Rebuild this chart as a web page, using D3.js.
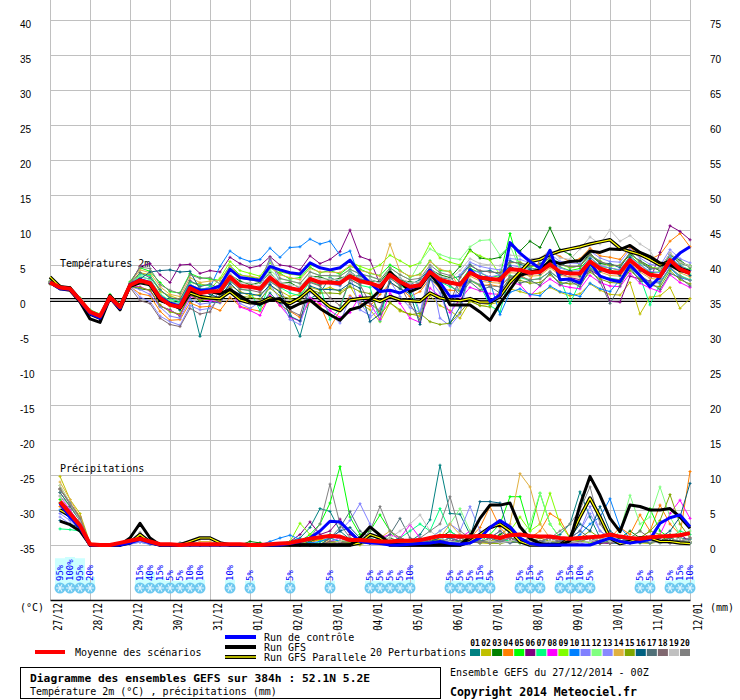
<!DOCTYPE html>
<html>
<head>
<meta charset="utf-8">
<script src="https://cdn.jsdelivr.net/npm/d3@7"></script>
<style>
  body { margin: 0; background: #fff; }
  svg { display: block; }
</style>
</head>
<body>
<svg id="chart"></svg>
<script>
// 6h steps, 0 = 27/12 00Z ... 64 = 12/01 00Z
const dayTicks = [0, 4, 8, 12, 16, 20, 24, 28, 32, 36, 40, 44, 48, 52, 56, 60, 64];
const dayLabels = ["27/12", "28/12", "29/12", "30/12", "31/12", "01/01", "02/01", "03/01", "04/01",
  "05/01", "06/01", "07/01", "08/01", "09/01", "10/01", "11/01", "12/01"];
const tempTicks = [40, 35, 30, 25, 20, 15, 10, 5, 0, -5, -10, -15, -20, -25, -30, -35];
const precipTicks = [75, 70, 65, 60, 55, 50, 45, 40, 35, 30, 25, 20, 15, 10, 5, 0];

const memberIds = ["01", "02", "03", "04", "05", "06", "07", "08", "09", "10",
  "11", "12", "13", "14", "15", "16", "17", "18", "19", "20"];
const memberColors = ["#008080", "#c0c000", "#008000", "#ff8000", "#00ff00", "#800080", "#00ff80",
  "#ff00ff", "#80ff00", "#0080ff", "#8080ff", "#80ff80", "#8888ff", "#e0b040", "#80a800",
  "#006080", "#507078", "#806870", "#c0c0c0", "#808080"];

// temperature 2m (°C), steps 0..64
const tempMean = [2.5, 1.8, 1.6, 0.0, -1.7, -2.3, 0.4, -1.0, 2.1, 2.8, 2.4, 0.3, -0.7, -1.0, 1.7, 1.0, 1.2,
  1.3, 3.3, 2.0, 1.9, 1.6, 3.2, 2.1, 1.7, 1.4, 3.0, 2.5, 2.5, 2.4, 3.4, 2.7, 2.4, 1.9, 3.6, 2.6, 1.9, 2.1,
  4.0, 2.9, 2.5, 2.2, 3.9, 3.2, 3.0, 2.9, 4.4, 4.3, 3.9, 4.0, 5.1, 4.0, 3.8, 3.8, 5.5, 4.5, 4.0, 3.9, 5.7,
  4.5, 3.6, 3.4, 5.7, 4.4, 3.8];
const tempControl = [2.5, 1.6, 1.5, -0.1, -1.9, -2.6, 0.3, -1.2, 2.2, 2.9, 2.5, 0.4, -0.5, -0.8, 2.0, 1.4, 1.5,
  2.0, 4.4, 3.2, 3.0, 2.8, 4.8, 4.3, 3.9, 3.7, 5.3, 4.6, 4.3, 4.6, 5.7, 3.9, 2.4, 1.2, 1.4, 1.0, 1.7, 2.1,
  4.3, 2.5, 0.5, 0.6, 4.3, 3.0, -0.2, 0.7, 8.2, 6.7, 5.5, 4.5, 7.1, 2.9, 3.0, 2.4, 5.3, 3.4, 2.9, 2.6, 5.0,
  3.5, 1.9, 3.3, 5.3, 6.7, 7.6];
const tempGfs = [2.5, 1.6, 1.4, -0.3, -2.7, -3.2, 0.3, -1.4, 2.0, 2.6, 2.3, 0.0, -0.6, -1.2, 1.4, 1.0, 1.2,
  0.9, 1.5, 0.6, -0.3, -0.6, 0.0, 0.2, -1.2, -0.5, 0.0, -1.2, -2.1, -2.9, -1.4, -1.0, 0.0, 1.4, 4.0, 2.6,
  1.2, 1.8, 3.8, 1.9, -0.7, -0.7, -0.7, -1.7, -2.9, -0.5, 1.5, 3.5, 4.0, 4.3, 5.6, 5.2, 5.5, 5.6, 7.0, 6.8,
  7.3, 7.2, 7.8, 6.8, 6.2, 5.3, 5.0, 4.2, 3.9];
const tempParallel = [3.3, 1.9, 1.7, 0.0, -2.0, -2.6, 0.6, -1.0, 2.0, 2.5, 2.2, 0.0, -0.5, -1.1, 1.0, 0.5, 0.3,
  0.2, 1.2, 0.0, -0.4, -0.4, 0.3, -0.2, -0.5, 0.3, 1.5, 0.2, -1.0, -1.5, 0.0, 0.2, 0.3, -0.2, 0.5, 0.0,
  -0.1, -0.2, 1.0, 0.3, 0.0, -0.1, 0.2, -0.3, -0.3, 0.5, 2.5, 4.0, 5.5, 5.8, 6.5, 7.0, 7.3, 7.6, 8.0, 8.3,
  8.6, 7.4, 6.9, 6.5, 5.8, 5.0, 5.5, 4.5, 4.0];
const tempMembers = [
  [2.4, 1.7, 1.5, 0.2, -1.5, -2.1, 0.6, -0.8, 2.4, 3.2, 2.0, 0.8, -0.2, -1.5, 0.6, -5.2, -0.3,
   -0.4, 1.5, 0.4, -0.3, -0.8, 1.0, -0.5, -1.8, -5.2, 0.2, 1.0, 3.2, 2.6, 4.1, 3.0, 2.9, 2.5, 4.0, 3.1, 2.2,
   2.9, 4.6, 3.2, 3.0, 3.4, 5.1, 4.0, 4.2, 3.6, 5.6, 5.1, 4.7, 5.2, 6.0, 5.3, 4.6, 4.9, 6.4, 5.3, 5.2, 4.6,
   6.8, 5.4, 4.4, 4.6, 6.5, 5.2, 4.9],
  [2.6, 1.9, 1.8, -0.2, -1.9, -2.4, 0.3, -1.2, 1.8, 3.9, 3.6, 1.2, 0.6, 0.1, 2.5, 2.3, 2.0,
   0.5, 2.1, 1.2, 0.6, 0.8, 2.0, 1.3, 0.5, 0.9, 1.8, 1.4, 1.8, 1.2, 2.0, -0.5, -1.4, -3.1, -0.4, -1.6, -2.0,
   -2.3, 0.6, -0.8, -1.5, -2.6, -0.2, -0.8, -0.6, -0.3, 1.6, 1.2, 0.8, 1.0, 1.8, 1.1, 0.6, 0.9, 2.3, 1.4,
   0.8, 0.7, 2.5, -2.0, 0.4, 0.6, 1.8, -1.2, 0.2],
  [2.3, 1.6, 1.4, 0.1, -1.8, -2.6, 0.2, -1.1, 2.0, 1.6, 1.4, -0.9, -1.4, -2.3, 1.0, -0.2, 0.4,
   1.9, 3.6, 2.7, 2.2, 2.5, 3.9, 2.4, 2.5, 1.7, 3.4, 3.3, 2.8, 3.1, 3.6, 3.4, 2.7, 2.6, 4.3, 2.8, 2.6, 2.4,
   4.4, 3.6, 3.2, 4.8, 7.2, 6.0, 5.8, 6.1, 7.8, 7.0, 8.4, 7.5, 10.3, 7.2, 6.5, 4.9, 6.7, 5.2, 5.0, 4.9, 6.5,
   5.6, 4.8, 4.2, 6.4, 5.7, 4.6],
  [2.5, 1.9, 1.7, -0.1, -1.6, -2.2, 0.5, -1.0, 1.9, 0.9, 0.6, -1.6, -2.9, -2.8, -0.4, -1.0, -0.9,
   -1.5, 0.4, -0.9, -1.3, -1.6, 0.5, -0.8, -1.6, -2.5, -0.2, -0.7, -4.0, -1.5, 0.6, -0.4, -0.9, 0.8, 2.4,
   1.7, 0.5, 1.2, 3.1, 1.6, 1.4, 1.3, 2.8, 2.0, 2.2, 1.9, 3.3, 3.6, 2.7, 5.8, 7.0, 6.2, 5.5, 5.9, 7.4, 6.3,
   6.1, 5.8, 7.5, 6.3, 5.8, 6.5, 8.4, 9.5, 7.6],
  [2.7, 2.0, 1.7, 0.3, -1.4, -2.0, 0.8, -0.6, 2.6, 4.6, 4.1, 2.5, 1.2, 1.0, 3.8, 3.2, 3.0,
   2.8, 4.9, 3.6, 3.3, 3.0, 4.6, 3.8, 3.0, 3.2, 4.7, 3.9, 4.2, 3.7, 4.8, 4.4, 3.8, 3.5, 5.0, 4.2, 3.3, 3.7,
   5.6, 4.2, 4.1, 2.5, 4.5, 3.9, 3.2, 3.5, 9.5, 4.6, 4.6, 4.3, 5.4, 4.7, 4.2, 4.5, 6.1, 4.8, 4.6, 4.2, 6.3,
   5.1, 3.9, 4.0, 6.0, 4.9, 4.3],
  [2.4, 1.8, 1.5, 0.2, -1.6, -2.3, 0.6, -0.9, 2.3, 4.8, 5.2, 3.6, 2.5, 5.0, 5.1, 3.8, 4.2,
   4.0, 6.1, 5.2, 4.6, 4.9, 6.2, 5.0, 4.8, 4.3, 6.3, 5.2, 5.8, 6.9, 10.0, 6.2, 5.7, 2.3, 3.8, 2.2, 1.7, 2.4,
   4.4, 2.6, 2.2, 2.5, 4.1, 3.4, 3.3, 2.6, 4.6, 4.0, 3.5, 4.3, 5.4, 3.8, 3.2, 2.9, 4.3, 3.4, -0.2, -0.3,
   3.4, 3.0, 2.7, 6.8, 10.6, 9.8, 8.6],
  [2.5, 1.7, 1.7, 0.1, -1.7, -2.2, 0.4, -0.9, 2.2, 3.6, 3.5, 1.5, 0.2, -0.3, 2.6, 2.1, 2.1,
   0.9, 2.7, 1.6, 1.3, -1.5, 2.6, 1.8, 1.0, 0.6, 2.6, 2.1, -2.8, -1.2, 3.0, 2.1, 1.8, -3.0, 3.2, 2.0, 1.5,
   -2.0, 3.5, 2.6, 1.9, 1.3, 2.8, 2.1, -0.8, -1.7, 3.5, 3.2, 2.8, 3.1, 4.0, 3.0, -0.5, 2.6, 4.7, 3.4, 3.1,
   2.9, 4.6, 3.3, -0.7, 2.3, 4.5, 3.5, 2.9],
  [2.6, 1.8, 1.6, 0.0, -1.8, -2.5, 0.3, -1.1, 2.0, 1.9, 1.3, -0.8, -1.5, -2.2, 0.5, 0.1, -0.1,
   -0.3, 1.8, -1.0, -1.5, -2.2, 0.6, -0.8, -2.5, -3.0, 0.3, -0.5, -1.5, -2.5, -1.8, 0.6, -0.5, -2.8, 1.0,
   -0.5, -2.6, -3.2, 1.7, 0.5, -1.8, 0.1, 1.8, 1.3, 0.9, 0.8, 2.5, 2.2, 0.6, 2.0, 3.0, 2.1, 1.8, 1.6, 3.5,
   2.5, 2.0, 1.9, 3.8, 2.4, 1.7, 1.2, 3.6, 2.5, 1.8],
  [2.5, 1.8, 1.6, -0.1, -1.7, -2.4, 0.5, -1.0, 2.1, 2.7, 2.6, 0.1, -0.9, -0.6, 1.9, 0.8, 1.5,
   3.1, 5.5, 4.2, 3.8, 3.4, 5.3, 4.0, 3.7, 3.5, 5.0, 4.6, 4.2, 4.5, 5.5, 4.8, 4.3, 5.0, 6.4, 5.6, 4.8, 5.3,
   8.1, 6.0, 5.4, 5.0, 7.0, 6.3, 5.7, 3.6, 5.3, 5.4, 4.8, 4.9, 6.0, 5.1, 4.6, 4.9, 6.4, 5.6, 4.8, 5.0, 6.7,
   5.4, 4.7, 4.5, 6.6, 5.3, 4.9],
  [2.5, 1.9, 1.6, 0.0, -1.6, -2.3, 0.4, -1.0, 2.2, 3.3, 3.0, 0.7, -0.3, -0.4, 2.2, 1.5, 1.8,
   4.8, 7.0, 6.0, 5.5, 5.8, 7.4, 6.1, 7.5, 7.6, 8.7, 8.0, 8.4, 6.4, 7.0, 3.0, 2.5, 2.0, 3.4, 2.8, 2.0, 2.4,
   4.1, 2.8, 2.4, 2.0, 3.7, 3.5, 2.6, -2.1, 1.1, 1.6, 0.8, 0.6, 2.0, 1.2, 0.9, 0.5, 2.4, 1.6, 1.2, 2.9, 4.9,
   3.4, 2.5, 2.6, 4.6, 3.2, 2.8],
  [2.4, 1.7, 1.5, -0.1, -1.8, -2.5, 0.2, -1.2, 1.9, 1.5, 0.8, -1.0, -2.3, -2.6, 0.1, -0.6, -0.4,
   1.2, 3.5, 1.8, 2.1, 1.3, 5.8, 2.4, 1.4, 1.8, 2.8, 2.7, 2.3, 2.0, 3.6, -1.4, -2.2, 1.5, 3.9, 2.4, 2.3, -1.8,
   4.2, -2.6, -3.7, -2.0, 4.3, 3.9, 3.3, 3.6, 5.0, 4.7, 4.5, 4.3, 5.6, 4.6, 4.1, 4.2, 6.1, 4.9, 4.6, 4.3,
   6.2, 5.0, 4.1, 3.9, 6.3, 4.9, 4.2],
  [2.6, 1.8, 1.6, 0.1, -1.7, -2.2, 0.5, -0.9, 2.2, 3.4, 2.9, 0.9, -0.1, -0.5, 2.2, 1.6, 1.7,
   2.2, 4.2, 3.1, 2.9, 2.6, 4.3, 3.0, 2.8, 2.3, 4.0, 3.5, 3.4, 3.5, 4.3, 3.8, 3.3, 2.9, 4.6, 3.6, 2.9, 5.4,
   7.3, 6.5, 6.0, 5.8, 7.6, 8.5, 8.6, 6.4, 7.8, 4.4, 4.0, 3.9, 5.2, 4.2, 3.7, 3.9, 5.6, 4.4, 4.0, 3.8, 5.8,
   4.6, 3.7, 3.3, 5.8, 4.5, 3.7],
  [2.5, 1.8, 1.5, 0.0, -1.7, -2.4, 0.4, -1.0, 2.0, 0.4, -0.2, -2.3, -3.1, -3.6, -0.8, -1.4, -1.2,
   0.4, 2.2, -0.5, -1.2, -0.3, 2.3, 0.0, -2.8, -3.5, 1.1, 0.4, -2.0, -3.3, 0.4, -0.3, -2.5, -1.2, 2.7, 0.5,
   -1.1, -1.8, 2.9, 1.0, -3.0, 3.6, 5.4, 4.8, 4.5, 4.3, 5.9, 5.8, 5.3, 5.6, 6.6, 5.5, 5.3, 5.2, 7.0, 6.0,
   5.5, 5.4, 7.2, 6.0, 5.1, 4.9, 7.2, 5.9, 5.3],
  [2.6, 2.0, 1.7, 0.2, -1.5, -2.1, 0.6, -0.8, 2.4, 4.3, 3.9, 1.9, 0.8, 0.5, 3.2, 2.5, 2.7,
   2.8, 4.8, 3.5, 3.4, 3.1, 4.7, 3.6, 3.2, 2.9, 4.5, 4.0, 4.0, 3.9, 4.9, 4.2, 3.9, 3.4, 8.0, 4.1, 3.4, 3.6,
   5.5, 4.4, 4.0, 1.7, 3.4, 2.7, 2.5, 2.4, 3.9, 3.8, 3.4, 3.5, 4.6, 3.5, 3.3, 3.3, 5.0, 4.0, 3.5, 3.4, 5.2,
   4.0, 3.1, 2.9, 5.2, 3.9, 3.3],
  [2.4, 1.7, 1.6, -0.1, -1.9, -2.5, 0.2, -1.2, 1.9, 1.8, 1.4, -0.7, -1.7, -2.0, 0.7, 0.0, 0.2,
   -0.2, 1.8, 0.5, 0.4, 0.1, 1.7, 0.6, 0.2, -0.1, 1.5, 1.0, 1.0, 0.9, 1.9, 1.2, 0.9, -2.1, -0.4, -1.4, -2.1,
   -1.9, -3.1, -3.5, -3.3, -1.8, -0.1, -0.8, -1.0, 1.4, 2.9, 2.8, 2.4, 2.5, 3.6, 2.5, 2.3, 2.3, 4.0, 3.0,
   2.5, 2.4, 4.2, 3.0, 2.1, 1.9, 4.2, 2.9, 2.3],
  [2.5, 1.8, 1.7, 0.0, -1.6, -2.3, 0.3, -1.0, 2.1, 3.0, 4.0, 4.2, 4.3, 4.0, 4.1, 1.5, 0.8,
   0.3, 2.4, 1.0, 0.9, 0.6, 2.2, 1.1, -2.3, -3.0, 2.0, 1.5, 1.5, 1.4, 2.4, 1.7, -3.1, -2.0, 2.6, 1.6, 0.9,
   -3.5, 3.0, 1.9, -3.3, -1.0, 4.4, 3.0, 2.7, 3.3, 4.9, 3.9, 4.4, 3.7, 5.6, 3.6, 4.2, 3.4, 5.9, 4.1, 4.4,
   3.5, 6.1, 4.2, 3.9, 3.1, 5.3, 4.8, 3.5],
  [2.5, 1.7, 1.6, 0.1, -1.8, -2.3, 0.5, -0.9, 2.3, 3.9, 3.2, 1.5, 0.3, 0.1, 2.8, 1.9, 2.3,
   1.6, 3.0, 2.4, 1.6, 1.9, 3.5, 1.8, 2.0, 1.1, 3.3, 2.2, 2.8, 2.1, 3.7, 2.4, 2.7, 1.6, 3.3, 2.9, 1.6, 2.4,
   3.7, 3.2, 2.2, 0.7, 2.6, 1.4, 1.9, 1.0, 3.3, 2.4, 2.8, 2.1, 3.9, 2.2, 2.7, 1.9, 4.4, 2.6, -0.5, 2.0, 4.6,
   2.7, 2.5, 1.5, 3.8, 3.2, 2.0],
  [2.4, 1.8, 1.5, -0.2, -1.9, -2.6, 0.1, -1.3, 1.8, -0.1, -0.5, -2.6, -3.5, -3.8, -1.2, -2.0, -1.7,
   0.8, 2.8, 1.5, 1.4, 1.1, 2.7, 1.6, -1.5, -2.2, 2.5, 2.0, 0.3, -0.8, 2.9, 2.2, -0.5, -1.6, 3.1, 2.1, -0.6,
   -2.8, 3.5, 2.4, -0.4, 3.2, 4.9, 4.2, 4.0, 3.9, 5.4, 5.3, 4.9, 5.0, 6.1, 5.0, 4.8, 4.8, 6.5, 5.5, 5.0,
   4.9, 6.7, 5.5, 4.6, 4.4, 6.7, 5.4, 4.8],
  [2.5, 1.9, 1.7, 0.1, -1.7, -2.2, 0.4, -1.0, 2.1, 2.6, 2.5, 0.5, -0.5, -1.2, 1.5, 1.2, 1.1,
   1.9, 3.8, 2.4, 2.5, 2.0, 3.7, 2.6, 2.2, 1.9, 3.5, 3.0, 3.0, 2.9, 3.9, 3.2, 2.9, 2.4, 4.1, 3.1, 2.4, 2.6,
   4.5, 3.4, 3.0, 4.2, 5.9, 5.2, 5.0, 4.9, 6.4, 6.3, 5.9, 6.0, 7.1, 6.0, 5.8, 7.3, 9.0, 8.0, 10.0, 8.4, 9.2,
   8.0, 7.1, 4.4, 6.7, 5.4, 4.8],
  [2.6, 1.8, 1.7, 0.0, -1.6, -2.2, 0.6, -0.9, 2.4, 4.7, 4.5, 2.2, 1.4, 0.9, 3.6, 3.1, 3.2,
   2.3, 4.3, 3.1, 2.9, 2.6, 6.0, 3.1, 2.7, 2.4, 4.0, 3.5, 3.5, 3.4, 4.4, 3.7, 3.4, 2.9, 4.6, 3.6, 2.9, 3.1,
   5.0, 3.9, 3.5, 1.2, 2.9, 2.2, 2.0, 1.9, 3.4, 3.3, 2.9, 3.0, 4.1, 3.0, 2.8, 2.8, 4.5, 3.5, 3.0, 2.9, 4.7,
   3.5, 2.6, 2.4, 4.7, 3.4, 2.8]
];

// precipitation (mm / 6h), steps 1..64
const precipMean = [6.2, 4.5, 2.8, 0.1, 0, 0, 0.3, 0.6, 0.9, 0.5, 0.1, 0.1, 0, 0.1, 0.1, 0.1, 0.1, 0.1, 0.1,
  0, 0, 0.1, 0.2, 0.3, 0.6, 0.9, 1.1, 1.3, 1.2, 0.7, 0.7, 0.6, 0.5, 0.5, 0.6, 0.6, 0.7, 1.0, 1.3, 1.3, 1.2,
  1.2, 1.3, 1.3, 1.0, 1.4, 1.5, 1.3, 1.2, 1.2, 1.0, 0.9, 1.0, 1.1, 1.2, 1.5, 1.2, 1.0, 0.9, 1.1, 1.2, 1.3,
  1.4, 1.7];
const precipControl = [5.9, 4.0, 2.5, 0, 0, 0, 0, 0.3, 0.8, 0.3, 0, 0, 0, 0, 0, 0, 0, 0, 0, 0, 0, 0, 0,
  0.2, 0.5, 1.0, 2.0, 3.4, 3.3, 1.9, 0.5, 0.3, 0.2, 0, 0, 0.1, 0.2, 0.3, 0.5, 0.2, 0.1, 0.3, 1.0, 2.5, 3.5,
  2.6, 1.0, 0.2, 0, 0, 0, 0, 0, 0, 0.5, 1.0, 0.5, 0.3, 0.5, 0.8, 3.1, 3.9, 4.3, 2.6];
const precipGfs = [3.4, 2.9, 2.0, 0, 0, 0, 0, 1.0, 3.1, 1.0, 0, 0, 0, 0, 0, 0, 0, 0, 0, 0, 0, 0, 0, 0, 0,
  0, 0, 0, 0, 0, 1.0, 2.6, 1.4, 0.2, 0, 0, 0, 0, 0, 0, 0, 1.2, 3.8, 5.7, 5.7, 6.0, 2.6, 0.9, 0.2, 0, 0,
  0.6, 5.7, 9.8, 7.1, 3.8, 1.9, 5.7, 5.5, 5.0, 5.0, 5.2, 4.0, 2.4];
const precipParallel = [5.0, 4.2, 2.5, 0, 0, 0, 0, 0.3, 1.5, 0.4, 0, 0, 0, 0.5, 1.0, 1.0, 0.3, 0, 0, 0, 0,
  0, 0, 0, 0, 0, 0, 0, 0, 0, 0.3, 1.5, 1.0, 0, 0, 0, 0, 0, 0, 0, 0, 0.5, 1.5, 2.5, 3.0, 2.0, 0.5, 0, 0, 0,
  0, 1.0, 4.0, 6.7, 4.0, 1.0, 0.2, 0.5, 1.0, 1.0, 0.5, 0.5, 0.3, 0.2];
const precipMembers = [
  [7.5, 5.5, 3.5, 0.2, 0, 0, 0, 0.4, 0.8, 0.3, 0, 0, 0, 0, 0, 0, 0, 0, 0, 0, 0, 0, 0.2, 0.5, 1.0, 2.5, 5.2,
   4.8, 2.0, 0.8, 0.5, 0.3, 1.0, 0.5, 0.3, 0.5, 1.5, 3.6, 11.4, 4.5, 4.4, 1.5, 0.5, 0.3, 0.8, 0.5, 0.3, 0.2,
   0.5, 1.0, 1.5, 3.0, 7.6, 4.0, 1.0, 0.3, 0.2, 0.5, 1.0, 0.5, 0.3, 0.5, 1.0, 0.8],
  [9.8, 6.5, 4.5, 0.3, 0, 0, 0, 0.5, 1.0, 0.4, 0, 0, 0, 0, 0, 0, 0, 0, 0, 0, 0, 0, 0, 0, 0.3, 0.5, 0.8,
   0.5, 0.3, 0.2, 0, 0.5, 0.3, 0.2, 0.5, 0.3, 0.2, 0.5, 0.8, 0.4, 0.2, 0.5, 0.3, 0.2, 0.3, 1.0, 0.8, 0.5,
   0.3, 0.5, 0.2, 0.3, 0.5, 1.0, 0.5, 0.3, 0.5, 0.8, 0.3, 0.2, 0.5, 1.0, 0.5, 0.3],
  [6.0, 4.5, 3.0, 0, 0, 0, 0, 0.3, 0.6, 0.2, 0, 0, 0, 0, 0, 0, 0, 0, 0, 0.5, 0.3, 0, 0, 0, 0, 0.5, 1.0,
   1.5, 1.0, 0.5, 0.3, 0.2, 0.5, 1.0, 0.5, 0.3, 0.2, 0.5, 1.0, 2.0, 1.0, 0.5, 0.3, 0.5, 1.5, 2.5, 1.0, 0.5,
   0.3, 0.2, 0.5, 1.0, 0.5, 0.3, 0.2, 0.5, 1.0, 2.0, 1.0, 0.5, 0.5, 1.5, 1.0, 0.5],
  [5.5, 4.0, 2.5, 0, 0, 0, 0, 0.2, 0.5, 0.2, 0, 0, 0, 0, 0, 0, 0, 0, 0, 0, 0, 0, 0, 0, 0, 0.3, 0.8, 0.5,
   0.3, 0.5, 0.2, 0.3, 1.0, 0.5, 0.3, 0.2, 0.5, 0.3, 0.5, 1.0, 0.5, 1.0, 2.5, 5.5, 2.5, 1.0, 0.5, 1.0, 2.0,
   4.5, 3.6, 1.0, 0.5, 0.3, 0.5, 1.0, 2.5, 1.5, 4.3, 2.0, 5.7, 3.0, 1.5, 10.5],
  [6.5, 5.0, 3.0, 0.1, 0, 0, 0, 0.3, 0.8, 0.3, 0, 0, 0, 0, 0, 0, 0, 0, 0, 0, 0, 0, 0, 0.3, 0.5, 1.5, 3.0,
   6.0, 11.2, 4.0, 1.5, 2.0, 4.3, 2.0, 0.5, 0.3, 0.5, 1.0, 0.5, 0.3, 0.5, 1.0, 0.5, 1.5, 3.0, 6.9, 6.9,
   2.0, 7.4, 3.0, 1.0, 0.5, 0.3, 0.5, 1.0, 0.5, 0.3, 1.0, 2.0, 5.2, 2.0, 1.0, 0.5, 0.3],
  [8.0, 6.0, 4.0, 0.2, 0, 0, 0, 0.5, 1.2, 0.4, 0, 0, 0, 0, 0, 0, 0, 0, 0, 0, 0, 0, 0.2, 0.5, 1.5, 3.3,
   1.5, 2.0, 3.7, 1.5, 0.5, 0.3, 0.2, 0.5, 0.3, 0.2, 0.3, 0.5, 0.3, 0.2, 0.5, 1.0, 0.5, 0.3, 0.5, 1.0, 0.5,
   0.3, 0.2, 0.3, 0.5, 0.3, 0.2, 0.5, 0.3, 0.2, 0.5, 0.3, 0.5, 1.0, 0.5, 1.0, 1.5, 0.5],
  [2.3, 2.2, 2.0, 0, 0, 0, 0, 0.2, 0.5, 0.2, 0, 0, 0, 0, 0, 0, 0, 0, 0, 0, 0, 0, 0, 0, 0, 0, 0.5, 1.0,
   0.5, 0.3, 0.5, 1.0, 0.5, 0.3, 1.0, 2.0, 3.0, 2.0, 5.2, 2.0, 1.0, 0.5, 0.3, 0.5, 1.0, 0.5, 0.3, 0.2, 0.5,
   1.0, 0.5, 0.3, 0.5, 1.0, 0.5, 0.3, 0.5, 1.0, 0.5, 0.3, 0.5, 1.0, 2.0, 1.5],
  [7.0, 5.0, 3.0, 0.1, 0, 0, 0, 0.3, 0.7, 0.2, 0, 0, 0, 0, 0, 0, 0, 0, 0, 0, 0, 0, 0, 0, 0, 0, 0, 0.5,
   1.0, 0.5, 0.3, 0.5, 1.0, 1.5, 1.0, 2.9, 1.0, 0.5, 0.3, 0.5, 1.0, 2.0, 1.0, 0.5, 0.3, 0.5, 1.0, 0.5, 0.3,
   0.2, 0.3, 0.5, 0.3, 0.5, 1.0, 0.5, 0.3, 0.5, 1.0, 2.0, 1.5, 4.5, 6.4, 3.8],
  [8.5, 6.0, 3.5, 0.2, 0, 0, 0, 0.4, 1.0, 0.3, 0, 0, 0, 0, 0, 0, 0, 0, 0, 0, 0, 0, 0, 0.5, 3.1, 1.5, 0.5,
   0.3, 0.5, 1.0, 0.5, 0.3, 0.2, 0.5, 1.0, 0.5, 0.3, 0.5, 1.5, 1.0, 0.5, 0.3, 0.5, 1.0, 0.5, 2.0, 4.0, 2.0,
   3.0, 7.4, 3.0, 1.0, 0.5, 0.3, 0.5, 1.0, 0.5, 0.3, 1.0, 2.0, 1.5, 0.5, 0.3, 0.5],
  [5.0, 3.8, 2.5, 0, 0, 0, 0, 0.2, 0.4, 0.1, 0, 0, 0, 0, 0, 0, 0, 0, 0, 0, 0, 0.5, 1.0, 1.4, 0.8, 0.3,
   0.5, 1.0, 0.5, 0.3, 0.2, 0.5, 0.3, 0.2, 0.3, 0.5, 0.2, 0.3, 0.5, 1.0, 0.5, 0.3, 0.5, 1.0, 2.0, 1.0, 0.5,
   0.3, 0.5, 0.3, 0.2, 0.5, 1.5, 3.0, 4.0, 6.6, 2.5, 1.0, 0.5, 0.3, 0.5, 1.0, 0.5, 0.3],
  [4.5, 3.5, 2.2, 0, 0, 0, 0, 0.2, 0.5, 0.2, 0, 0, 0, 0, 0, 0, 0, 0, 0, 0, 0, 0, 0, 0, 0, 0, 0, 1.0,
   2.0, 3.5, 5.9, 3.0, 1.0, 0.5, 0.3, 0.5, 1.0, 0.5, 0.3, 0.5, 1.5, 1.0, 0.5, 0.3, 0.5, 1.0, 0.5, 0.3, 0.5,
   1.0, 0.5, 1.0, 2.0, 5.5, 2.0, 1.0, 0.5, 0.3, 0.5, 1.0, 0.5, 0.3, 0.5, 0.3],
  [7.0, 5.5, 3.5, 0.2, 0, 0, 0, 0.3, 0.8, 0.3, 0, 0, 0, 0, 0, 0, 0, 0, 0, 0, 0, 0, 0, 0, 0, 0, 0, 0, 0,
   0.5, 0.3, 0.5, 1.0, 0.5, 0.3, 0.5, 0.3, 1.0, 2.0, 3.0, 5.2, 2.0, 1.0, 0.5, 0.3, 0.5, 1.0, 3.0, 7.4, 3.0,
   1.0, 0.5, 0.3, 0.5, 1.0, 0.5, 2.0, 7.1, 3.0, 4.0, 8.3, 4.0, 1.5, 2.0],
  [4.0, 3.0, 2.0, 0, 0, 0, 0, 0.1, 0.4, 0.1, 0, 0, 0, 0, 0, 0, 0, 0, 0, 0, 0, 0, 0, 0, 0, 0, 0, 0.5,
   1.0, 0.5, 0.3, 0.5, 0.3, 0.5, 1.0, 0.5, 0.3, 1.0, 2.0, 3.0, 2.0, 5.5, 2.0, 1.0, 0.5, 0.3, 0.5, 0.3, 0.5,
   1.0, 0.5, 1.0, 2.0, 4.5, 2.0, 1.0, 0.5, 0.3, 0.5, 1.0, 0.5, 0.3, 0.5, 1.0],
  [9.0, 6.5, 4.0, 0.2, 0, 0, 0, 0.5, 1.5, 0.5, 0, 0, 0, 0, 0.5, 0.5, 0, 0, 0, 0, 0, 0, 0, 0, 0, 0, 0,
   0.5, 0.3, 0.5, 1.0, 0.5, 1.0, 2.0, 1.0, 0.5, 0.3, 0.5, 1.0, 3.0, 1.5, 0.5, 0.3, 0.5, 1.0, 3.0, 10.2, 8.3,
   3.0, 1.0, 0.5, 0.3, 0.5, 1.0, 0.5, 0.3, 0.5, 1.0, 0.5, 0.3, 0.5, 1.0, 0.5, 0.3],
  [8.0, 6.0, 3.8, 0.2, 0, 0, 0, 0.4, 1.0, 0.3, 0, 0, 0, 0, 0, 0, 0, 0, 0, 0, 0, 0, 0, 0, 0, 0, 0, 0,
   0.5, 0.3, 0.2, 0.5, 0.3, 0.2, 0.5, 0.3, 0.5, 1.0, 0.5, 0.3, 0.5, 1.0, 0.5, 0.3, 0.2, 0.5, 0.3, 0.5, 1.0,
   0.5, 0.3, 0.5, 1.0, 2.0, 1.0, 0.5, 0.3, 0.5, 1.0, 2.0, 3.5, 7.2, 3.0, 1.0],
  [3.5, 3.0, 2.5, 0, 0, 0, 0, 0.3, 0.8, 0.3, 0, 0, 0, 0, 0, 0, 0, 0, 0, 0, 0, 0, 0, 0, 0, 0, 0, 1.0,
   2.0, 2.5, 1.0, 0.5, 0.3, 0.5, 1.0, 0.5, 0.3, 0.5, 1.0, 0.5, 0.3, 1.0, 6.2, 6.2, 6.0, 1.0, 0.5, 0.3, 0.5,
   0.3, 0.2, 1.0, 3.0, 2.0, 5.5, 2.0, 1.0, 0.5, 0.3, 0.5, 1.0, 2.0, 4.0, 8.8],
  [7.5, 5.5, 3.5, 0.2, 0, 0, 0, 0.5, 1.5, 0.5, 0, 0, 0.3, 0.5, 0, 0, 0, 0, 0, 0, 0, 0, 0, 0, 0, 0, 0,
   1.0, 2.5, 4.8, 2.0, 1.0, 0.5, 1.5, 3.8, 1.0, 0.5, 0.3, 0.5, 1.0, 0.5, 0.3, 0.5, 1.0, 0.5, 0.3, 0.5, 1.0,
   0.5, 0.3, 0.5, 1.0, 2.0, 1.0, 0.5, 0.3, 0.5, 1.0, 0.5, 0.3, 0.5, 1.0, 0.5, 0.3],
  [8.0, 5.8, 3.6, 0.2, 0, 0, 0, 0.5, 1.2, 0.4, 0, 0, 0, 0, 0, 0, 0, 0, 0, 0, 0, 0, 0, 0, 0, 0, 0, 0.5,
   0.3, 0.5, 1.0, 0.5, 0.3, 0.5, 0.3, 0.5, 1.0, 0.5, 0.3, 0.5, 1.0, 0.5, 0.3, 1.0, 2.0, 1.0, 0.5, 0.3, 0.5,
   1.0, 0.5, 0.3, 0.5, 1.0, 0.5, 0.3, 0.5, 1.0, 2.0, 1.0, 0.5, 0.3, 0.5, 1.0],
  [8.5, 6.0, 3.5, 0.2, 0, 0, 0, 0.5, 1.0, 0.4, 0, 0, 0, 0, 0, 0, 0, 0, 0, 0, 0, 0, 0, 0, 0, 0, 0, 0,
   0.5, 1.0, 0.5, 0.3, 0.5, 1.0, 2.0, 3.0, 4.3, 2.0, 1.0, 0.5, 0.3, 0.5, 1.0, 0.5, 0.3, 0.5, 1.0, 0.5, 0.3,
   0.5, 1.0, 0.5, 0.3, 0.5, 1.0, 0.5, 0.3, 0.5, 1.0, 0.5, 0.3, 0.5, 1.0, 0.5],
  [8.0, 6.0, 3.8, 0.2, 0, 0, 0, 0.6, 1.8, 0.5, 0, 0, 0, 0, 0, 0, 0, 0, 0, 0, 0, 0, 0, 0, 0, 1.0, 3.0,
   8.7, 3.0, 1.0, 0.5, 2.0, 5.5, 2.0, 1.0, 0.5, 1.0, 2.0, 3.0, 6.9, 2.0, 1.0, 0.5, 0.3, 0.5, 1.0, 0.5, 0.3,
   0.5, 1.0, 2.0, 3.0, 5.0, 8.3, 3.0, 1.0, 0.5, 0.3, 0.5, 1.0, 0.5, 0.3, 0.5, 1.0]
];

// snow probability per 6h step
const snowSteps = [1, 2, 3, 4, 9, 10, 11, 12, 13, 14, 15, 18, 20, 24, 28, 32, 33, 34, 35, 36, 40, 41, 42,
  43, 44, 47, 48, 49, 51, 52, 53, 54, 59, 60, 62, 63, 64];
const snowPct = [95, 100, 95, 20, 15, 40, 15, 5, 5, 10, 10, 10, 5, 5, 5, 5, 5, 5, 5, 10, 5, 5, 5, 15, 5, 5,
  15, 5, 5, 15, 10, 5, 5, 5, 5, 15, 10];

const width = 740;
const height = 700;
const plot = { left: 50, right: 690, top: 20, bottom: 545, axis: 600 };
const mono = "'DejaVu Sans Mono', monospace";
const sans = "'Liberation Sans', Arial, sans-serif";

const svg = d3.select("#chart").attr("width", width).attr("height", height);

const x = d3.scaleLinear().domain([0, 64]).range([plot.left, plot.right]);
const yTemp = d3.scaleLinear().domain([-35, 40]).range([plot.bottom, plot.top]);
const yPrecip = d3.scaleLinear().domain([0, 75]).range([plot.bottom, plot.top]);
const snowHeight = d3.scaleLinear().domain([0, 100]).range([8, 33]);

const tempLine = d3.line().x((d, i) => x(i)).y((d) => yTemp(d));
const precipLine = d3.line().x((d, i) => x(i + 1)).y((d) => yPrecip(d));

function drawBackground() {
  svg.append("rect").attr("width", width).attr("height", height).attr("fill", "#fff");

  const snow = snowSteps.map((s, i) => ({ step: s, pct: snowPct[i] }));
  svg.append("g")
    .selectAll("rect")
    .data(snow)
    .join("rect")
    .attr("x", (d) => x(d.step) - 5)
    .attr("width", 10)
    .attr("y", (d) => 590 - snowHeight(d.pct))
    .attr("height", (d) => snowHeight(d.pct))
    .attr("fill", "#ccffff");

  const grid = svg.append("g").attr("stroke", "#c0c0c0").attr("stroke-width", 1);
  grid.selectAll(".vgrid")
    .data(dayTicks)
    .join("line")
    .attr("class", "vgrid")
    .attr("x1", (d) => x(d) + 0.5)
    .attr("x2", (d) => x(d) + 0.5)
    .attr("y1", 0)
    .attr("y2", plot.axis);
  grid.selectAll(".hgrid")
    .data(tempTicks)
    .join("line")
    .attr("class", "hgrid")
    .attr("x1", plot.left)
    .attr("x2", plot.right)
    .attr("y1", (d) => yTemp(d) + 0.5)
    .attr("y2", (d) => yTemp(d) + 0.5);

  // double line at 0°C
  svg.append("line")
    .attr("x1", plot.left).attr("x2", plot.right)
    .attr("y1", yTemp(0)).attr("y2", yTemp(0))
    .attr("stroke", "#000").attr("stroke-width", 4);
  svg.append("line")
    .attr("x1", plot.left).attr("x2", plot.right)
    .attr("y1", yTemp(0)).attr("y2", yTemp(0))
    .attr("stroke", "#fff").attr("stroke-width", 1.4);

  svg.append("text").attr("x", 60).attr("y", 267)
    .attr("font-family", mono).attr("font-size", 10).text("Températures 2m");
  svg.append("text").attr("x", 60).attr("y", 472)
    .attr("font-family", mono).attr("font-size", 10).text("Précipitations");

  // snow icons + probabilities
  const flakes = svg.append("g")
    .selectAll("g")
    .data(snow)
    .join("g")
    .attr("transform", (d) => `translate(${x(d.step)},588)`);
  flakes.append("circle").attr("r", 5.5).attr("fill", "#6cc8f0");
  flakes.selectAll("line")
    .data([0, 60, 120])
    .join("line")
    .attr("x1", -4).attr("x2", 4)
    .attr("transform", (a) => `rotate(${a})`)
    .attr("stroke", "#e8f8ff").attr("stroke-width", 1);
  svg.append("g")
    .selectAll("text")
    .data(snow)
    .join("text")
    .attr("transform", (d) => `translate(${x(d.step)},581) rotate(-90)`)
    .attr("dy", "0.35em")
    .attr("font-family", mono)
    .attr("font-size", 9)
    .attr("fill", "#0000ff")
    .text((d) => `${d.pct}%`);
}

function markerPath(values, scaleX, scaleY) {
  return values.map((v, i) => {
    const px = scaleX(i), py = scaleY(v);
    return `M${px - 1.5},${py}h3M${px},${py - 1.5}v3`;
  }).join("");
}

function drawMembers() {
  const g = svg.append("g").attr("fill", "none");
  tempMembers.forEach((values, k) => {
    g.append("path").attr("d", tempLine(values))
      .attr("stroke", memberColors[k]).attr("stroke-width", 1);
    g.append("path").attr("d", markerPath(values, x, yTemp))
      .attr("stroke", memberColors[k]).attr("stroke-width", 1);
  });
  precipMembers.forEach((values, k) => {
    g.append("path").attr("d", precipLine(values))
      .attr("stroke", memberColors[k]).attr("stroke-width", 1);
    g.append("path").attr("d", markerPath(values, (i) => x(i + 1), yPrecip))
      .attr("stroke", memberColors[k]).attr("stroke-width", 1);
  });
}

function drawRuns() {
  const g = svg.append("g").attr("fill", "none").attr("stroke-linejoin", "round");
  [tempLine(tempParallel), precipLine(precipParallel)].forEach((d) => {
    g.append("path").attr("d", d).attr("stroke", "#000").attr("stroke-width", 3.5);
    g.append("path").attr("d", d).attr("stroke", "#ffff00").attr("stroke-width", 1.2);
  });
  [tempLine(tempGfs), precipLine(precipGfs)].forEach((d) => {
    g.append("path").attr("d", d).attr("stroke", "#000").attr("stroke-width", 3);
  });
  [tempLine(tempControl), precipLine(precipControl)].forEach((d) => {
    g.append("path").attr("d", d).attr("stroke", "#0000ff").attr("stroke-width", 3);
  });
  [tempLine(tempMean), precipLine(precipMean)].forEach((d) => {
    g.append("path").attr("d", d).attr("stroke", "#ff0000").attr("stroke-width", 4);
  });
}

function drawAxes() {
  svg.append("g")
    .attr("transform", "translate(20,0)")
    .call(d3.axisLeft(yTemp).tickValues(tempTicks).tickFormat((d) => String(d)).tickSize(0))
    .call((g) => g.select(".domain").remove())
    .call((g) => g.selectAll("text")
      .attr("x", 0).attr("dy", "0.75em").attr("text-anchor", "start")
      .attr("font-family", sans).attr("font-size", 10).attr("fill", "#000"));

  svg.append("g")
    .attr("transform", "translate(710,0)")
    .call(d3.axisRight(yPrecip).tickValues(precipTicks).tickFormat((d) => String(d)).tickSize(0))
    .call((g) => g.select(".domain").remove())
    .call((g) => g.selectAll("text")
      .attr("x", 0).attr("dy", "0.75em").attr("text-anchor", "start")
      .attr("font-family", sans).attr("font-size", 10).attr("fill", "#000"));

  // narrow tall date labels: scale along the text direction
  svg.append("g")
    .attr("transform", `translate(0,${plot.axis})`)
    .call(d3.axisBottom(x).tickValues(dayTicks).tickFormat((d, i) => dayLabels[i])
      .tickSize(0).tickSizeOuter(0))
    .call((g) => g.select(".domain").attr("stroke", "#000").attr("stroke-width", 1.5))
    .call((g) => g.selectAll("text")
      .attr("transform", "translate(7,3) rotate(-90) scale(0.8,1)")
      .attr("text-anchor", "end")
      .attr("x", 0).attr("y", 0).attr("dy", "0.35em")
      .attr("font-family", mono).attr("font-size", 11.5).attr("fill", "#000"));

  svg.append("text").attr("x", 20).attr("y", 611)
    .attr("font-family", mono).attr("font-size", 10).text("(°C)");
  svg.append("text").attr("x", 710).attr("y", 611)
    .attr("font-family", mono).attr("font-size", 10).text("(mm)");
}

function drawLegend() {
  const g = svg.append("g").attr("font-family", mono).attr("font-size", 10);

  g.append("line").attr("x1", 35).attr("x2", 65).attr("y1", 652).attr("y2", 652)
    .attr("stroke", "#ff0000").attr("stroke-width", 4);
  g.append("text").attr("x", 75).attr("y", 655.5).text("Moyenne des scénarios");

  g.append("line").attr("x1", 225).attr("x2", 256).attr("y1", 637).attr("y2", 637)
    .attr("stroke", "#0000ff").attr("stroke-width", 4);
  g.append("text").attr("x", 264).attr("y", 641).text("Run de contrôle");
  g.append("line").attr("x1", 225).attr("x2", 256).attr("y1", 647).attr("y2", 647)
    .attr("stroke", "#000").attr("stroke-width", 4);
  g.append("text").attr("x", 264).attr("y", 651).text("Run GFS");
  g.append("line").attr("x1", 225).attr("x2", 256).attr("y1", 657).attr("y2", 657)
    .attr("stroke", "#000").attr("stroke-width", 4);
  g.append("line").attr("x1", 225).attr("x2", 256).attr("y1", 657).attr("y2", 657)
    .attr("stroke", "#ffff00").attr("stroke-width", 1.4);
  g.append("text").attr("x", 264).attr("y", 661).text("Run GFS Parallele");

  g.append("text").attr("x", 370).attr("y", 655.5).text("20 Perturbations");

  const band = d3.scaleBand().domain(memberIds).range([470, 690]).paddingInner(0.09);
  g.append("g")
    .selectAll("rect")
    .data(memberIds)
    .join("rect")
    .attr("x", (d) => band(d))
    .attr("y", 649)
    .attr("width", band.bandwidth())
    .attr("height", 7)
    .attr("fill", (d, i) => memberColors[i]);
  g.append("g")
    .selectAll("text")
    .data(memberIds)
    .join("text")
    .attr("x", (d) => band(d) + band.bandwidth() / 2)
    .attr("y", 646)
    .attr("text-anchor", "middle")
    .attr("font-size", 8)
    .attr("font-weight", "bold")
    .text((d) => d);

  svg.append("rect").attr("x", 20.5).attr("y", 667.5).attr("width", 420).attr("height", 31)
    .attr("fill", "none").attr("stroke", "#000").attr("stroke-width", 1);
  svg.append("text").attr("x", 30).attr("y", 682)
    .attr("font-family", mono).attr("font-size", 11.3).attr("font-weight", "bold")
    .text("Diagramme des ensembles GEFS sur 384h : 52.1N 5.2E");
  svg.append("text").attr("x", 30).attr("y", 695)
    .attr("font-family", mono).attr("font-size", 10)
    .text("Température 2m (°C) , précipitations (mm)");
  svg.append("text").attr("x", 450).attr("y", 676)
    .attr("font-family", mono).attr("font-size", 10)
    .text("Ensemble GEFS du 27/12/2014 - 00Z");
  svg.append("text").attr("x", 450).attr("y", 696)
    .attr("font-family", mono).attr("font-size", 11.5).attr("font-weight", "bold")
    .text("Copyright 2014 Meteociel.fr");
}

drawBackground();
drawMembers();
drawRuns();
drawAxes();
drawLegend();
</script>
</body>
</html>
